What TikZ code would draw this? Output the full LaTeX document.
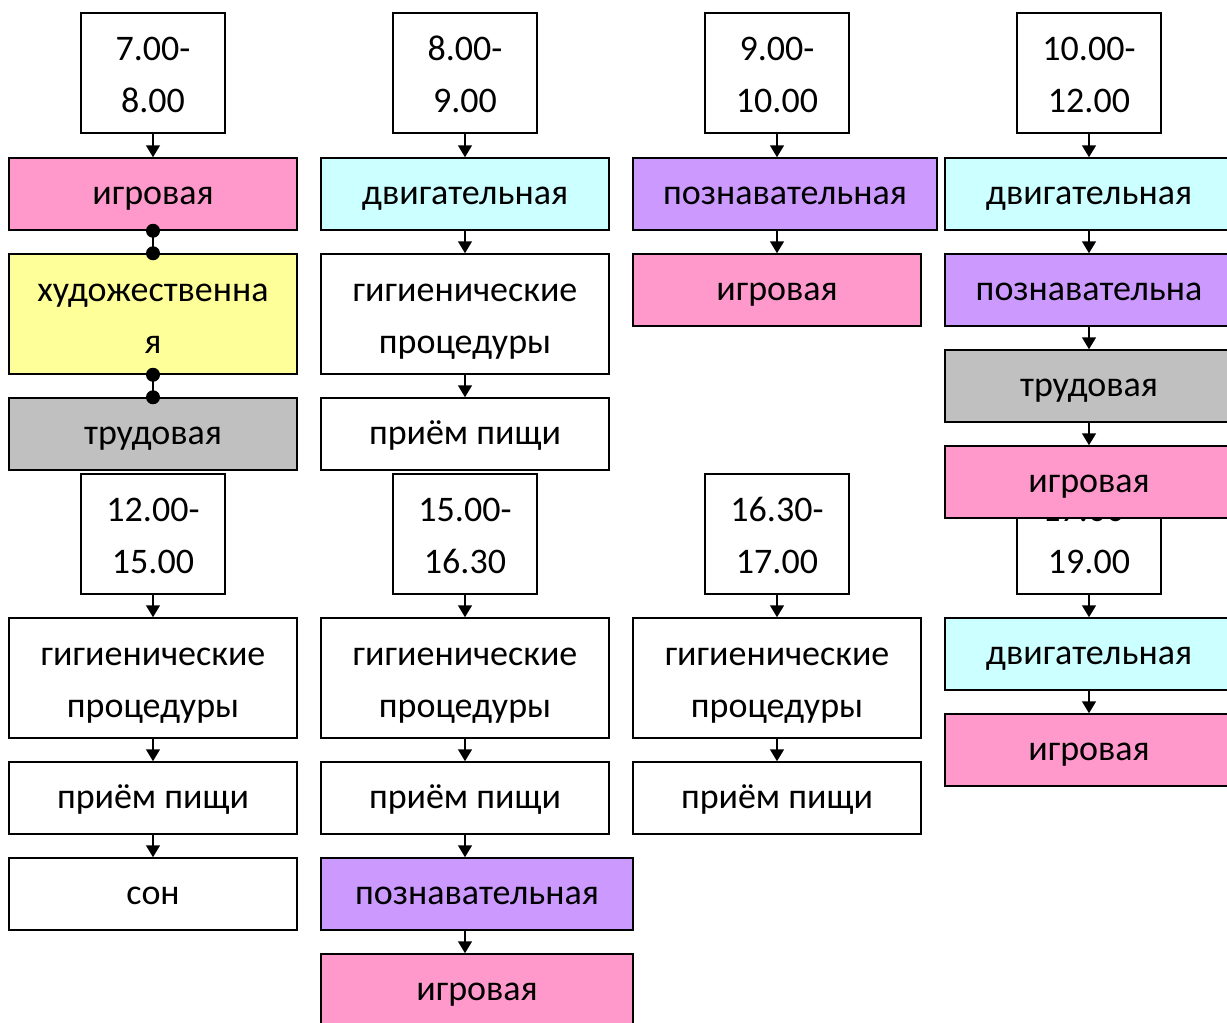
\documentclass[tikz,border=0pt]{standalone}
\usepackage{fontspec}
\setmainfont{Carlito}
\usepackage{tikz}
\usetikzlibrary{arrows.meta}
\definecolor{igpink}{RGB}{255, 153, 204}
\definecolor{dvcyan}{RGB}{204, 255, 255}
\definecolor{pzviolet}{RGB}{204, 153, 255}
\definecolor{hdyellow}{RGB}{255, 255, 153}
\definecolor{trgray}{RGB}{192, 192, 192}

\tikzset{
  box/.style={draw, line width=1.5pt, align=center, inner sep=0pt,
    font=\fontsize{36}{52}\selectfont},
  timebox/.style={box, fill=white, minimum width=144pt, minimum height=120pt,
    text height=88pt, text depth=10pt},
  act/.style={box, minimum width=288pt, minimum height=72pt,
    text height=30pt, text depth=10pt},
  acttwo/.style={act, minimum height=120pt, text height=88pt, text depth=10pt},
  link/.style={line width=1.5pt, -{Triangle[width=14pt,length=12pt]}},
}

\begin{document}
\begin{tikzpicture}[x=1pt,y=-1pt]
\useasboundingbox (0,0) rectangle (1227,1023);
\clip (0,0) rectangle (1227,1023);
% Morning: 7.00-8.00
\node[timebox] (t1) at (153,73) {7.00-\\8.00};
\node[act, fill=igpink] (a1) at (153,194) {игровая};
\node[acttwo, fill=hdyellow] (a2) at (153,314) {художественна\\я};
\node[act, fill=trgray] (a3) at (153,434) {трудовая};
\draw[link] (t1.south) -- (a1.north);
\draw[line width=1.5pt] (a1.south) -- (a2.north);
\fill (a1.south) circle (7) (a2.north) circle (7);
\draw[line width=1.5pt] (a2.south) -- (a3.north);
\fill (a2.south) circle (7) (a3.north) circle (7);

% 8.00-9.00
\node[timebox] (t2) at (465,73) {8.00-\\9.00};
\node[act, fill=dvcyan] (b1) at (465,194) {двигательная};
\node[acttwo, fill=white] (b2) at (465,314) {гигиенические\\процедуры};
\node[act, fill=white] (b3) at (465,434) {приём пищи};
\draw[link] (t2.south) -- (b1.north);
\draw[link] (b1.south) -- (b2.north);
\draw[link] (b2.south) -- (b3.north);

% 9.00-10.00
\node[timebox] (t3) at (777,73) {9.00-\\10.00};
\node[act, fill=pzviolet, minimum width=304pt] (c1) at (785,194) {познавательная};
\node[act, fill=igpink] (c2) at (777,290) {игровая};
\draw[link] (t3.south) -- (t3.south |- c1.north);
\draw[link] (t3.south |- c1.south) -- (c2.north);

% 10.00-12.00
\node[timebox] (t4) at (1089,73) {10.00-\\12.00};
\node[act, fill=dvcyan] (d1) at (1089,194) {двигательная};
\node[act, fill=pzviolet] (d2) at (1089,290) {познавательна};
\node[act, fill=trgray] (d3) at (1089,386) {трудовая};
\draw[link] (t4.south) -- (d1.north);
\draw[link] (d1.south) -- (d2.north);
\draw[link] (d2.south) -- (d3.north);

% 12.00-15.00
\node[timebox] (t5) at (153,534) {12.00-\\15.00};
\node[acttwo, fill=white] (e1) at (153,678) {гигиенические\\процедуры};
\node[act, fill=white] (e2) at (153,798) {приём пищи};
\node[act, fill=white] (e3) at (153,894) {сон};
\draw[link] (t5.south) -- (e1.north);
\draw[link] (e1.south) -- (e2.north);
\draw[link] (e2.south) -- (e3.north);

% 15.00-16.30
\node[timebox] (t6) at (465,534) {15.00-\\16.30};
\node[acttwo, fill=white] (f1) at (465,678) {гигиенические\\процедуры};
\node[act, fill=white] (f2) at (465,798) {приём пищи};
\node[act, fill=pzviolet, minimum width=312pt] (f3) at (477,894) {познавательная};
\node[act, fill=igpink, minimum width=312pt] (f4) at (477,990) {игровая};
\draw[link] (t6.south) -- (f1.north);
\draw[link] (f1.south) -- (f2.north);
\draw[link] (f2.south) -- (f2.south |- f3.north);
\draw[link] (f2.south |- f3.south) -- (f2.south |- f4.north);

% 16.30-17.00
\node[timebox] (t7) at (777,534) {16.30-\\17.00};
\node[acttwo, fill=white] (g1) at (777,678) {гигиенические\\процедуры};
\node[act, fill=white] (g2) at (777,798) {приём пищи};
\draw[link] (t7.south) -- (g1.north);
\draw[link] (g1.south) -- (g2.north);

% 17.00-19.00 (under the last box of 10.00-12.00)
\node[timebox] (t8) at (1089,534) {17.00-\\19.00};
\node[act, fill=igpink] (d4) at (1089,482) {игровая};
\draw[link] (d3.south) -- (d4.north);
\node[act, fill=dvcyan] (h1) at (1089,654) {двигательная};
\node[act, fill=igpink] (h2) at (1089,750) {игровая};
\draw[link] (t8.south) -- (h1.north);
\draw[link] (h1.south) -- (h2.north);
\end{tikzpicture}
\end{document}
